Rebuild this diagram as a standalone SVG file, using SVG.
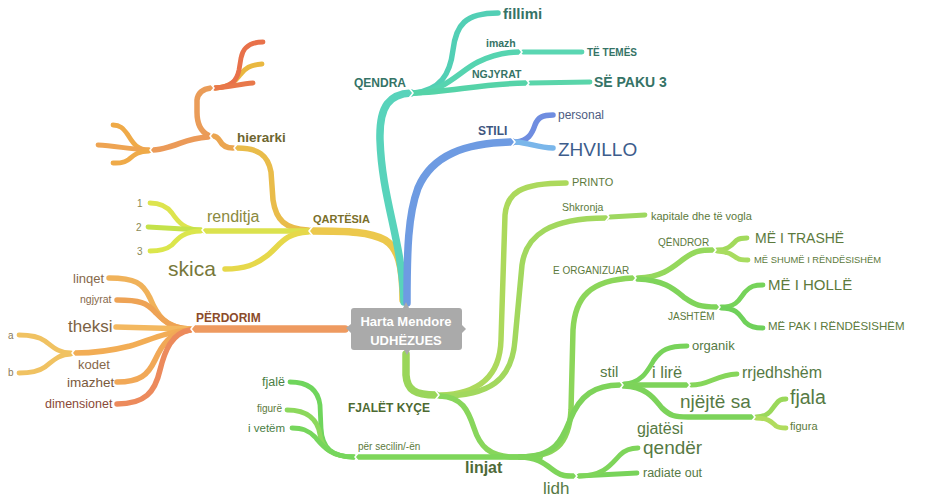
<svg xmlns="http://www.w3.org/2000/svg" xmlns:xlink="http://www.w3.org/1999/xlink" width="925" height="497" viewBox="0 0 925 497">
<defs>
<style>
.c{fill:none;stroke-linecap:round;stroke-linejoin:round;stroke-width:5.5}
.w1{stroke-width:7.5}
.w3{stroke-width:4.8}
.n{fill:none;stroke:#fff;stroke-width:1.6;stroke-linecap:round;stroke-linejoin:round}
text{font-family:"Liberation Sans",Arial,sans-serif}
.b{font-weight:bold}
.tq{fill:#357366}
.tg{fill:#567a44}
.tl{fill:#5c7a3c}
.tr{fill:#86684a}
</style>
<path id="nr" class="n" d="M-2.5,-4.5 L1,0 L-2.5,4.5"/>
<path id="nl" class="n" d="M2.5,-4.5 L-1,0 L2.5,4.5"/>
</defs>
<rect width="925" height="497" fill="#fff"/>
<g id="connectors">
<!-- QARTESIA -->
<path class="c w1" stroke="#ecc84c" d="M403,300 C403,265 398,248 385,240 C370,232 350,231 312,231"/>
<path class="c" stroke="#e9bc4a" d="M308,230 C285,229 276,220 273,200 L271,172 C268,155 258,148 237,148"/>
<path class="c" stroke="#dbe24e" d="M308,231 L205,231"/>
<path class="c" stroke="#e6d84a" d="M308,232 C285,233 280,245 268,255 C255,265 245,269 225,269"/>
<path class="c w3" stroke="#dde44e" d="M201,230 C185,230 178,222 172,213 C166,205 158,203 150,203"/>
<path class="c w3" stroke="#c4e24a" d="M201,230 L148,227"/>
<path class="c w3" stroke="#dbe64c" d="M201,231 C185,231 178,238 172,245 C166,250 158,251 150,251"/>
<path class="c" stroke="#eba550" d="M233,148 C225,148 222,145 220,141 C218,138 216,136 213,136"/>
<path class="c" stroke="#ea9c58" d="M208,135 C200,131 197,123 197,112 L197,100 C198,92 203,89 211,88"/>
<path class="c" stroke="#eb9a58" d="M208,137 C190,138 182,143 172,146 C165,148 160,150 153,150"/>
<path class="c w3" stroke="#e9b840" d="M215,88 C232,87 236,80 240,75 C245,68 250,65 262,64"/>
<path class="c w3" stroke="#e8714a" d="M215,88 C232,87 237,80 239,70 L241,58 C243,47 250,42 263,42"/>
<path class="c w3" stroke="#e8784a" d="M215,88 C230,87 240,84 253,83"/>
<path class="c w3" stroke="#efaa48" d="M149,150 C137,150 133,143 128,135 C123,128 120,125 113,125"/>
<path class="c w3" stroke="#eea452" d="M149,150 C130,149 115,146 98,145"/>
<path class="c w3" stroke="#efaa48" d="M149,151 C137,151 133,156 128,160 C123,163 120,163 113,163"/>
<!-- QENDRA -->
<path class="c w1" stroke="#58d3bb" d="M404,302 C402,240 382,200 380,140 C379,105 390,94 411,93"/>
<path class="c" stroke="#52cfb5" d="M414,93 C440,90 450,75 453,50 C456,25 465,13 498,13"/>
<path class="c" stroke="#56d4b0" d="M414,93 C445,92 458,72 478,62 C492,55 505,52 519,52"/>
<path class="c w3" stroke="#5ad6b2" d="M523,52 L582,52"/>
<path class="c" stroke="#55d3a8" d="M414,93 C450,92 480,84 526,83"/>
<path class="c w3" stroke="#5ad5aa" d="M530,83 L590,82"/>
<!-- STILI -->
<path class="c w1" stroke="#6e9be2" d="M407,303 C407,250 408,215 418,188 C432,155 465,143 512,142"/>
<path class="c" stroke="#6f8de0" d="M516,142 C528,141 532,134 535,125 C538,117 543,115 553,115"/>
<path class="c" stroke="#7ab6ea" d="M516,142 C530,143 538,148 553,148"/>
<!-- PERDORIM -->
<path class="c w1" stroke="#ee9a60" d="M345,329 L195,329"/>
<path class="c" stroke="#f0b25a" d="M190,329 C165,328 157,315 150,298 C143,283 135,278 109,278"/>
<path class="c" stroke="#eea355" d="M190,329 C170,328 163,320 155,312 C147,303 140,300 117,300"/>
<path class="c" stroke="#f3b860" d="M190,329 L116,327"/>
<path class="c" stroke="#f2ad55" d="M190,330 C165,332 150,340 130,346 C110,351 95,353 75,353"/>
<path class="c w3" stroke="#f0c262" d="M71,353 C58,353 52,346 45,341 C38,336 30,335 19,335"/>
<path class="c w3" stroke="#f0c262" d="M71,354 C58,354 52,362 45,367 C38,372 30,373 19,373"/>
<path class="c" stroke="#f1a857" d="M190,330 C170,332 162,345 155,360 C148,375 140,382 117,382"/>
<path class="c" stroke="#ec8a5c" d="M190,330 C172,333 165,350 160,370 C155,392 145,404 117,404"/>
<!-- FJALET KYCE -->
<path class="c w1" stroke="#9ad65a" d="M406,354 L406,375 C407,390 415,395 436,395"/>
<path class="c" stroke="#acd95c" d="M440,395 C480,394 500,375 501,340 L505,215 C507,193 520,183 566,183"/>
<path class="c" stroke="#a2d85e" d="M440,396 C490,396 512,380 515,340 L522,265 C526,235 550,218 606,218"/>
<path class="c w3" stroke="#9ed860" d="M610,217 L645,215"/>
<path class="c" stroke="#88d65c" d="M440,396 C462,397 468,410 474,428 C480,447 490,456 512,457 L540,457"/>
<path class="c" stroke="#7ed65a" d="M540,457 L358,457"/>
<path class="c" stroke="#8cd65a" d="M520,457 C555,457 569,445 571,410 L573,330 C575,297 590,280 633,278"/>
<path class="c" stroke="#7ed35a" d="M520,457 C555,457 562,440 570,420 C580,395 595,385 620,385"/>
<path class="c" stroke="#7ed55a" d="M520,457 C540,457 548,467 556,472 C562,476 566,476 574,476"/>
<path class="c w3" stroke="#78d35a" d="M579,476 L637,473"/>
<path class="c w3" stroke="#7ed55a" d="M579,476 C605,476 612,463 620,455 C625,450 630,448 638,448"/>
<path class="c" stroke="#95d85c" d="M638,278 C665,277 675,265 685,258 C695,251 700,250 713,250"/>
<path class="c w3" stroke="#a2da5c" d="M717,250 C730,250 733,243 737,240 C740,238 742,238 747,238"/>
<path class="c w3" stroke="#a8dc60" d="M717,251 C730,251 733,256 737,258 C740,260 742,260 748,260"/>
<path class="c" stroke="#7fd45a" d="M638,279 C665,280 675,290 685,298 C695,305 700,307 717,307"/>
<path class="c w3" stroke="#76d35a" d="M721,307 C738,307 740,298 745,292 C750,286 755,285 763,285"/>
<path class="c w3" stroke="#6fd15a" d="M721,308 C738,308 740,316 745,322 C750,327 755,328 763,328"/>
<path class="c w3" stroke="#78d35a" d="M624,384 C642,383 648,370 654,360 C661,350 668,346 687,346"/>
<path class="c" stroke="#7ed35a" d="M624,385 L687,385"/>
<path class="c w3" stroke="#86d65a" d="M691,385 C710,385 715,375 737,374"/>
<path class="c" stroke="#7cd35a" d="M624,386 C648,387 655,400 662,408 C670,416 675,417 688,417 L752,417"/>
<path class="c w3" stroke="#9ad85a" d="M756,417 C770,417 772,408 776,404 C779,400 781,399 786,399"/>
<path class="c w3" stroke="#b0dc5e" d="M756,418 C770,418 772,423 776,426 C779,428 781,428 786,428"/>
<path class="c w3" stroke="#6fd55c" d="M354,457 C332,457 322,448 321,428 L320,405 C318,390 308,382 290,382"/>
<path class="c w3" stroke="#8cd85c" d="M354,457 C332,457 322,448 320,435 C318,420 308,410 287,410"/>
<path class="c w3" stroke="#76d65c" d="M354,457 C330,457 322,445 315,437 C308,430 302,428 292,428"/>
<!-- notches -->
<use xlink:href="#nr" x="412" y="93"/>
<use xlink:href="#nr" x="521" y="52"/>
<use xlink:href="#nr" x="528" y="83"/>
<use xlink:href="#nr" x="514" y="142"/>
<use xlink:href="#nl" x="310" y="231"/>
<use xlink:href="#nl" x="235" y="148"/>
<use xlink:href="#nl" x="211" y="136"/>
<use xlink:href="#nr" x="213" y="88"/>
<use xlink:href="#nl" x="151" y="150"/>
<use xlink:href="#nl" x="203" y="230"/>
<use xlink:href="#nl" x="192" y="329"/>
<use xlink:href="#nl" x="73" y="353"/>
<use xlink:href="#nr" x="438" y="395"/>
<use xlink:href="#nr" x="608" y="217"/>
<use xlink:href="#nr" x="635" y="278"/>
<use xlink:href="#nr" x="715" y="250"/>
<use xlink:href="#nr" x="719" y="307"/>
<use xlink:href="#nr" x="622" y="385"/>
<use xlink:href="#nr" x="689" y="385"/>
<use xlink:href="#nr" x="754" y="417"/>
<use xlink:href="#nl" x="356" y="457"/>
<use xlink:href="#nr" x="576" y="476"/>
</g>
<g id="center">
<path fill="#aaaaaa" d="M354,308 H403 L406,302 L409,308 H459 Q462,308 462,311 V325 L466,329 L462,333 V347 Q462,350 459,350 H410 L407,355 L404,350 H354 Q351,350 351,347 V333 L346,328 L351,324 V311 Q351,308 354,308 Z"/>
<text x="406" y="326" text-anchor="middle" class="b" font-size="13" fill="#fff">Harta Mendore</text>
<text x="406" y="345" text-anchor="middle" class="b" font-size="13" fill="#fff">UDHËZUES</text>
</g>
<g id="qendra">
<text x="354" y="87" class="b tq" font-size="12">QENDRA</text>
<text x="503" y="19" class="b tq" font-size="15">fillimi</text>
<text x="486" y="47" class="b tq" font-size="10.5">imazh</text>
<text x="587" y="56" class="b tq" font-size="10">TË TEMËS</text>
<text x="472" y="78" class="b tq" font-size="10.5">NGJYRAT</text>
<text x="594" y="87" class="b tq" font-size="14">SË PAKU 3</text>
</g>
<g id="stili">
<text x="478" y="135" class="b" font-size="12" fill="#3e5680">STILI</text>
<text x="558" y="119" font-size="12" fill="#4d5c82">personal</text>
<text x="558" y="156" font-size="19" fill="#3d5d8c">ZHVILLO</text>
</g>
<g id="qartesia">
<text x="313" y="223" class="b" font-size="11" fill="#7a6f2a">QARTËSIA</text>
<text x="237" y="142" class="b" font-size="13.5" fill="#6e6630">hierarki</text>
<text x="207" y="222" font-size="16" fill="#8b8a3e">renditja</text>
<text x="168" y="276" font-size="21" fill="#77783a">skica</text>
<text x="137" y="207" font-size="10" fill="#8a8a55">1</text>
<text x="136" y="231" font-size="10" fill="#8a8a55">2</text>
<text x="137" y="255" font-size="10" fill="#8a8a55">3</text>
</g>
<g id="perdorim">
<text x="196" y="322" class="b" font-size="12" fill="#8b4b2a">PËRDORIM</text>
<text x="73" y="283" class="tr" font-size="13">linqet</text>
<text x="80" y="303" class="tr" font-size="10.5">ngjyrat</text>
<text x="68" y="332" font-size="17" fill="#7c6244">theksi</text>
<text x="8" y="339" font-size="10" fill="#8a7a5a">a</text>
<text x="8" y="376" font-size="10" fill="#8a7a5a">b</text>
<text x="78" y="369" class="tr" font-size="13">kodet</text>
<text x="67" y="387" font-size="13.5" fill="#7a5a3c">imazhet</text>
<text x="45" y="408" font-size="12.5" fill="#8a4a38">dimensionet</text>
</g>
<g id="fjalet-kyce">
<text x="348" y="412" class="b" font-size="12" fill="#4d6a32">FJALËT KYÇE</text>
<text x="572" y="186" class="tl" font-size="11">PRINTO</text>
<text x="562" y="211" class="tl" font-size="10.5">Shkronja</text>
<text x="651" y="220" class="tl" font-size="11">kapitale dhe të vogla</text>
<text x="553" y="274" class="tl" font-size="10">E ORGANIZUAR</text>
<text x="658" y="246" class="tl" font-size="10">QËNDROR</text>
<text x="755" y="243" class="tl" font-size="14">MË I TRASHË</text>
<text x="754" y="263" class="tl" font-size="9.4">MË SHUMË I RËNDËSISHËM</text>
<text x="668" y="320" class="tl" font-size="10">JASHTËM</text>
<text x="768" y="290" class="tl" font-size="15">MË I HOLLË</text>
<text x="768" y="330" class="tl" font-size="11.5">MË PAK I RËNDËSISHËM</text>
<text x="465" y="473" class="b" font-size="16" fill="#4e6a38">linjat</text>
<text x="600" y="377" class="tg" font-size="15">stil</text>
<text x="692" y="350" class="tg" font-size="13">organik</text>
<text x="652" y="378" class="tg" font-size="16.5">i lirë</text>
<text x="742" y="378" class="tg" font-size="16">rrjedhshëm</text>
<text x="680" y="408" class="tg" font-size="19">njëjtë sa</text>
<text x="790" y="404" class="tg" font-size="19.5">fjala</text>
<text x="790" y="430" class="tl" font-size="11">figura</text>
<text x="637" y="434" class="tg" font-size="16">gjatësi</text>
<text x="643" y="454" class="tg" font-size="19">qendër</text>
<text x="643" y="477" class="tg" font-size="12.5">radiate out</text>
<text x="543" y="494" class="tg" font-size="17">lidh</text>
<text x="358" y="450" class="tl" font-size="10">për secilin/-ën</text>
<text x="262" y="386" font-size="12.5" fill="#4a7e44">fjalë</text>
<text x="257" y="412" class="tl" font-size="10">figurë</text>
<text x="248" y="432" font-size="11.5" fill="#4a7e44">i vetëm</text>
</g>
</svg>
